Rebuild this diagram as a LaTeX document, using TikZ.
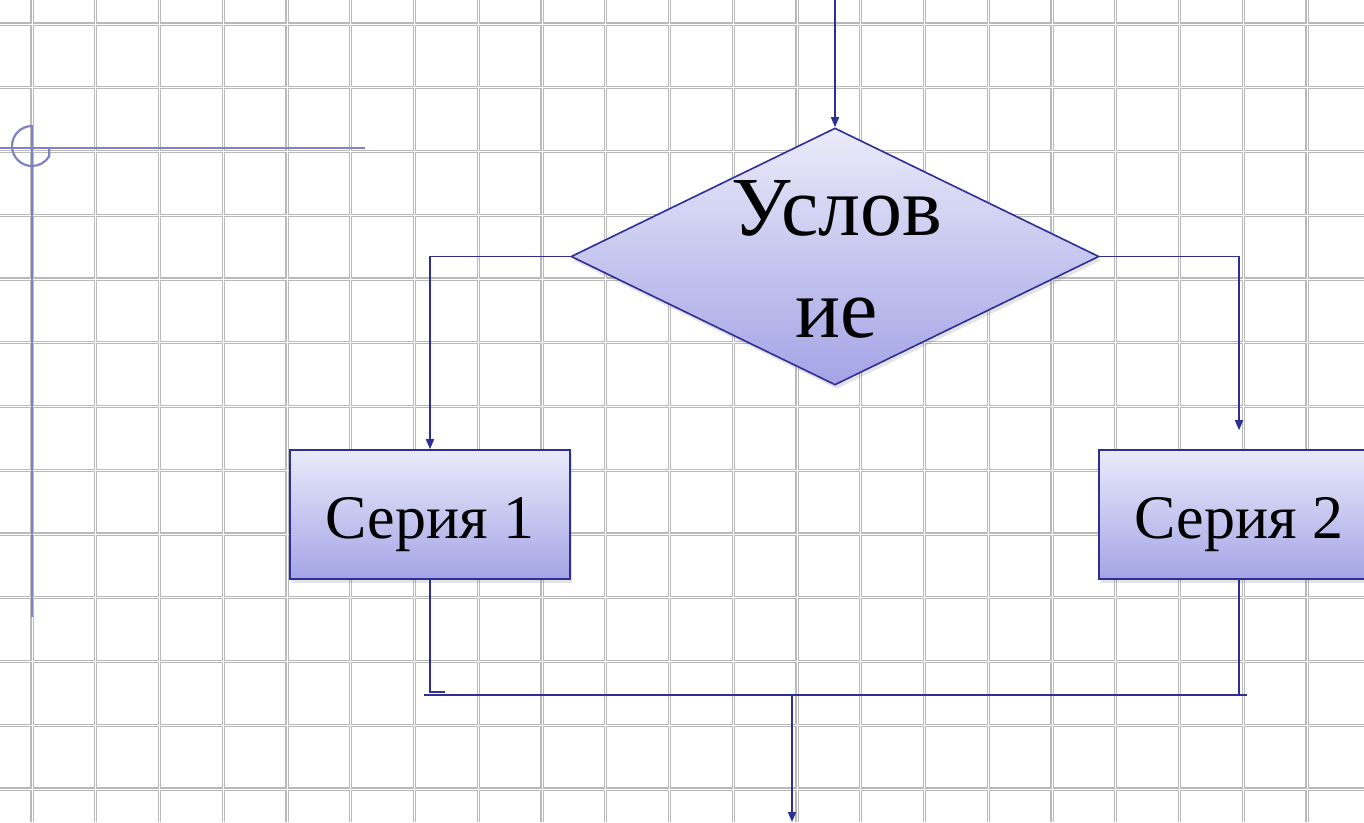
\documentclass[tikz,border=0pt]{standalone}
\usepackage{fontspec}
\setmainfont{Liberation Serif}
\usetikzlibrary{shapes.geometric,arrows.meta,shadows}
\definecolor{lineblue}{RGB}{46,46,150}
\definecolor{markblue}{RGB}{128,130,196}
\definecolor{filltop}{RGB}{234,234,250}
\definecolor{fillbot}{RGB}{164,164,230}
\definecolor{gridgray}{RGB}{185,185,185}
\begin{document}
\begin{tikzpicture}[x=1pt,y=-1pt,
  flow/.style={draw=lineblue, line width=1.7pt},
  arr/.style={flow, -{Triangle[length=10pt,width=8pt]}},
  shadedbox/.style={top color=filltop, bottom color=fillbot, draw=lineblue, line width=1.6pt,
    drop shadow={shadow xshift=2pt, shadow yshift=-4pt, opacity=0.22}},
  gridouter/.style={draw=gridgray, line width=3.2pt},
  gridinner/.style={draw=white, line width=1pt},
  cornermark/.style={draw=markblue, line width=2.2pt},
  serie/.style={shadedbox, rectangle, minimum width=280pt, minimum height=129pt, inner sep=0pt,
    text height=47pt, text depth=0pt, font=\fontsize{62}{70}\selectfont}]
\useasboundingbox (0,0) rectangle (1364,822);
\clip (0,0) rectangle (1364,822);
\fill[white] (0,0) rectangle (1364,822);
% grid
\foreach \i in {-1,...,21} {\draw[gridouter] ({32+\i*63.75},0) -- ({32+\i*63.75},822);}
\foreach \j in {-1,...,13} {\draw[gridouter] (0,{24+\j*63.75}) -- (1364,{24+\j*63.75});}
\foreach \i in {-1,...,21} {\draw[gridinner] ({32+\i*63.75},0) -- ({32+\i*63.75},822);}
\foreach \j in {-1,...,13} {\draw[gridinner] (0,{24+\j*63.75}) -- (1364,{24+\j*63.75});}
% corner mark
\draw[cornermark] (0,148) -- (365,148);
\draw[cornermark] (32,125) -- (32,617);
\draw[cornermark] (32,126) arc[start angle=270, end angle=30, radius=20] -- (49.3,148);
% nodes
\node[shadedbox, diamond, minimum width=528pt, minimum height=257pt, inner sep=0pt] (cond) at (835,256.5) {};
\node[font=\fontsize{84}{102}\selectfont, align=center, inner sep=0pt] (condtext) at (837,259) {Услов\\ие};
\node[serie] (s1) at (430,514.5) {Серия 1};
\node[serie] (s2) at (1239,514.5) {Серия 2};
% connectors
\coordinate (topin) at (835,0);
\coordinate (jl) at (424,695);
\coordinate (jr) at (1247,695);
\coordinate (jm) at (792,695);
\coordinate (out) at (792,822);
\coordinate (tick) at (430,692);
\draw[arr] (topin) -- (cond.north);
\draw[arr] (cond.west) -| (s1.north);
\draw[arr, shorten >=19pt] (cond.east) -| (s2.north);
\draw[flow] (s1.south) -- (tick) -- ++(15,0);
\draw[flow] (jl) -- (jr);
\draw[flow] (s2.south) -- (s2.south |- jr);
\draw[arr] (jm) -- (out);
\end{tikzpicture}
\end{document}
